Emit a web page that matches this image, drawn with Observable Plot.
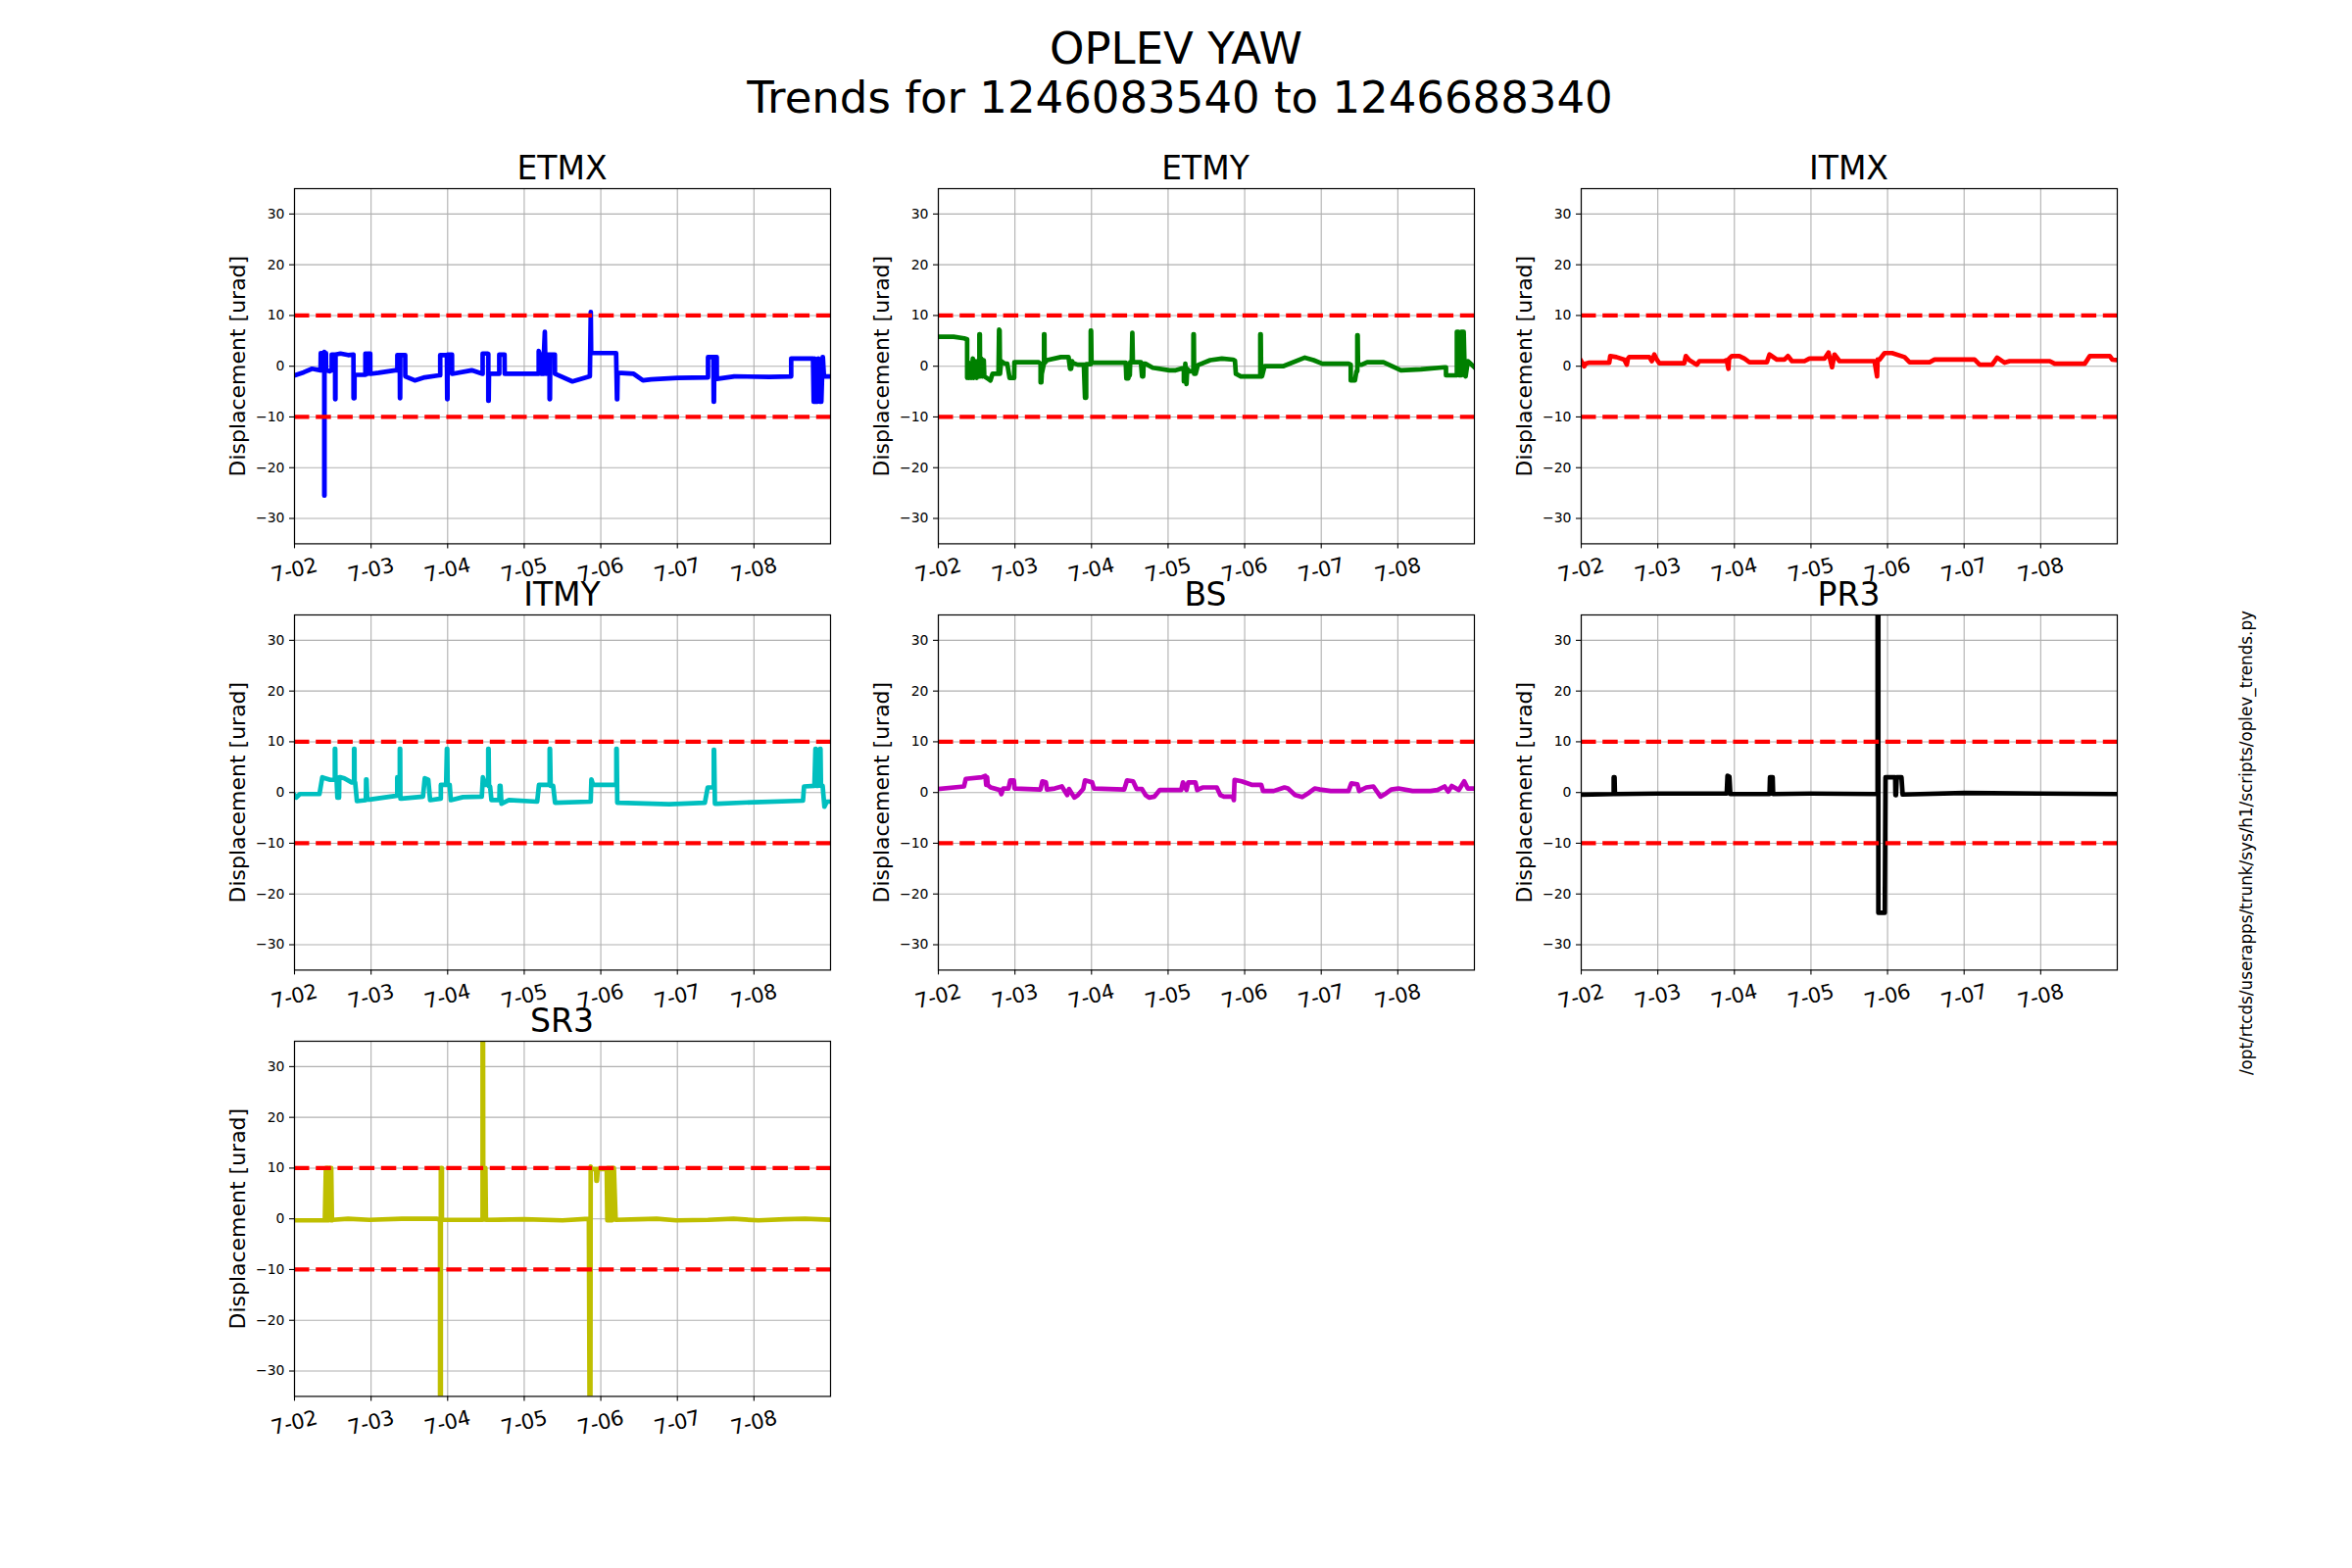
<!DOCTYPE html>
<html>
<head>
<meta charset="utf-8">
<script src="https://cdn.jsdelivr.net/npm/d3@7"></script>
<script src="https://cdn.jsdelivr.net/npm/@observablehq/plot@0.6"></script>
<style>
html, body { margin: 0; padding: 0; background: #fff; }
#fig { position: relative; width: 2400px; height: 1600px; overflow: hidden; background: #fff; font-family: "DejaVu Sans", sans-serif; }
#fig > svg.panel { position: absolute; overflow: visible; }
#overlay { position: absolute; left: 0; top: 0; pointer-events: none; }
</style>
</head>
<body>
<div id="fig"></div>
<script>
// ---------- data ----------
const suptitle = ["OPLEV YAW", "Trends for 1246083540 to 1246688340"];
const scriptPath = "/opt/rtcds/userapps/trunk/sys/h1/scripts/oplev_trends.py";
const yLabel = "Displacement [urad]";
const startUTC = Date.UTC(2019, 6, 2);          // 7-02 00:00
const spanDays = 7;
const tickDays = [0, 1, 2, 3, 4, 5, 6];
const tickLabels = ["7-02", "7-03", "7-04", "7-05", "7-06", "7-07", "7-08"];
const yTicks = [-30, -20, -10, 0, 10, 20, 30];
const yDomain = [-35, 35];
const thresholds = [10, -10];
const panelNames = ["ETMX", "ETMY", "ITMX", "ITMY", "BS", "PR3", "SR3"];
const panelColors = ["#0000ff", "#008000", "#ff0000", "#00bfbf", "#bf00bf", "#000000", "#bfbf00"];

// [day offset from 7-02, displacement urad]
const etmx = [[0,-1.8],[0.12,-1.2],[0.23,-0.5],[0.34,-0.8],[0.343,2.6],[0.35,2.4],[0.354,-0.8],[0.36,2.6],[0.375,2.4],[0.389,2.8],[0.389,-25.5],[0.392,-25.5],[0.392,2.6],[0.411,2.6],[0.413,-0.8],[0.457,-1],[0.486,-0.8],[0.486,2.3],[0.53,2.3],[0.531,-6.5],[0.535,-6.5],[0.536,2.3],[0.6,2.5],[0.7,2.2],[0.77,2.3],[0.771,-6.3],[0.783,-6.3],[0.784,-1.7],[0.926,-1.7],[0.926,2.5],[0.95,2.4],[0.95,-1.5],[0.96,-1.5],[0.96,2.5],[0.989,2.5],[0.99,-1.5],[1.1,-1.3],[1.314,-0.8],[1.343,-0.8],[1.343,2.2],[1.375,2.2],[1.377,-6.3],[1.38,-6.3],[1.382,2.2],[1.446,2.2],[1.447,-2],[1.571,-2.8],[1.7,-2.2],[1.886,-1.8],[1.903,-1.8],[1.903,2.2],[1.99,2.2],[1.994,-6.5],[1.998,-6.5],[2.0,2.3],[2.057,2.3],[2.058,-1.5],[2.314,-0.8],[2.457,-1.5],[2.457,2.5],[2.514,2.5],[2.531,2.4],[2.531,-6.8],[2.536,-6.8],[2.54,-1.5],[2.674,-1.5],[2.674,2.3],[2.743,2.3],[2.745,-1.5],[3.189,-1.5],[3.189,3],[3.21,2],[3.22,-1.5],[3.257,-1.5],[3.257,2.5],[3.269,6.8],[3.274,2.3],[3.286,-1.5],[3.3,2.3],[3.33,2.3],[3.331,-6.5],[3.336,-6.5],[3.34,2.3],[3.4,2.3],[3.401,-1.5],[3.629,-3],[3.857,-2],[3.869,10.7],[3.874,2.6],[4.2,2.6],[4.211,-6.5],[4.215,-6.5],[4.22,-1.3],[4.429,-1.5],[4.55,-2.8],[4.657,-2.6],[5.0,-2.3],[5.4,-2.2],[5.4,1.8],[5.47,1.8],[5.474,-7],[5.478,-7],[5.482,1.8],[5.514,1.8],[5.515,-2.5],[5.743,-2],[6.2,-2.1],[6.486,-2],[6.486,1.5],[6.771,1.5],[6.78,-7],[6.79,1.5],[6.8,-7],[6.83,-7],[6.84,1.5],[6.86,-7],[6.88,-7],[6.897,1.8],[6.9,1.8],[6.914,-2],[7,-2]];

const etmy = [[0,5.8],[0.2,5.8],[0.337,5.5],[0.376,5.3],[0.376,-2.3],[0.39,0.8],[0.4,-2.3],[0.42,0.5],[0.43,-2.3],[0.45,1.5],[0.46,-2.3],[0.48,1],[0.5,-2.3],[0.51,1],[0.52,-2],[0.536,-2],[0.536,6.3],[0.542,6.3],[0.545,-2],[0.56,1.5],[0.575,-2],[0.593,1.2],[0.6,-2],[0.65,-2.5],[0.68,-2.8],[0.707,-1.5],[0.785,-1.5],[0.793,7.2],[0.8,7],[0.805,-1.5],[0.82,1],[0.87,0.5],[0.9,0.5],[0.93,-2.3],[0.99,-2.3],[0.993,0.8],[1.306,0.8],[1.335,0.5],[1.335,-3.2],[1.345,-3.2],[1.35,-1.5],[1.38,0.6],[1.38,6.3],[1.385,6.3],[1.387,0.6],[1.42,1.2],[1.6,1.8],[1.7,1.8],[1.72,-0.5],[1.734,-0.5],[1.745,1],[1.76,0.6],[1.82,0.3],[1.9,0.3],[1.915,-6.2],[1.93,-6.2],[1.93,0.4],[1.99,0.4],[1.99,7],[1.995,7],[2.0,0.7],[2.447,0.7],[2.455,-2.4],[2.48,-2.4],[2.49,-1.8],[2.5,-1.8],[2.505,0.8],[2.525,0.8],[2.533,6.6],[2.54,0.8],[2.645,0.8],[2.66,-2],[2.675,-2],[2.68,0.5],[2.704,0.5],[2.8,-0.3],[3.018,-0.8],[3.1,-0.8],[3.189,-0.4],[3.206,-0.4],[3.206,-3],[3.22,-3],[3.225,0.5],[3.24,-3.5],[3.25,-0.5],[3.275,-1],[3.33,-1],[3.331,6.3],[3.336,6.3],[3.34,-1.5],[3.36,-1.5],[3.388,0.2],[3.55,1.2],[3.702,1.5],[3.85,1.3],[3.873,1.1],[3.885,-1.5],[3.95,-2],[4.204,-2],[4.204,6.3],[4.21,6.3],[4.215,-2],[4.227,-2],[4.26,0],[4.501,0],[4.786,1.7],[4.9,1.2],[5.014,0.5],[5.357,0.5],[5.385,0.3],[5.385,-2.8],[5.44,-2.8],[5.46,-1],[5.471,-1],[5.471,6.1],[5.476,6.1],[5.48,0.3],[5.528,0.3],[5.6,0.8],[5.813,0.8],[6.041,-0.8],[6.3,-0.6],[6.612,-0.2],[6.629,-0.2],[6.629,-1.8],[6.771,-1.8],[6.771,6.8],[6.79,6.8],[6.8,-1.8],[6.829,-1.8],[6.829,6.8],[6.86,6.8],[6.874,-1.8],[6.885,-2],[6.914,1],[7,-0.2]];

const itmx = [[0,1.0],[0.039,0],[0.06,0.5],[0.105,0.7],[0.366,0.7],[0.379,2],[0.46,1.8],[0.562,1.3],[0.595,0.3],[0.61,1.5],[0.627,1.8],[0.889,1.8],[0.922,1.0],[0.954,2.3],[0.987,1.3],[1.02,0.6],[1.346,0.6],[1.366,2],[1.412,1.2],[1.51,0.3],[1.542,1],[1.869,1],[1.9,1.2],[1.922,-0.5],[1.93,1.5],[1.967,2],[2.065,2],[2.131,1.5],[2.196,0.8],[2.425,0.8],[2.458,2.3],[2.556,1.3],[2.654,1.3],[2.699,2],[2.752,1],[2.915,1],[2.98,1.5],[3.176,1.5],[3.229,2.7],[3.275,-0.2],[3.307,2.3],[3.373,1],[3.83,1],[3.863,-2],[3.87,1.3],[3.895,1.3],[3.961,2.6],[4.059,2.6],[4.222,1.8],[4.288,0.8],[4.549,0.8],[4.614,1.3],[5.137,1.3],[5.203,0.3],[5.366,0.3],[5.431,1.7],[5.529,0.7],[5.595,1],[6.118,1],[6.183,0.5],[6.575,0.5],[6.641,2],[6.902,2],[6.935,1.3],[7,1.2]];

const itmy = [[0,-0.5],[0.023,-1],[0.07,-0.3],[0.326,-0.3],[0.363,3],[0.466,2.5],[0.527,2.5],[0.527,8.6],[0.532,8.6],[0.535,2.5],[0.55,2.5],[0.56,-1],[0.582,-1],[0.585,3],[0.606,3],[0.652,2.8],[0.746,2],[0.778,2],[0.778,8.6],[0.783,8.6],[0.785,2],[0.792,2],[0.815,-1.7],[0.932,-1.5],[0.935,2.6],[0.941,2.6],[0.95,-1.4],[0.979,-1.4],[1.342,-0.6],[1.342,3],[1.375,3],[1.375,8.6],[1.38,8.6],[1.383,-1.2],[1.398,-1.2],[1.678,-0.8],[1.701,2.8],[1.747,2.5],[1.771,-1.5],[1.911,-1.2],[1.911,1.5],[1.98,1.5],[1.99,8.6],[1.995,8.6],[2.0,1.5],[2.027,1.5],[2.041,-1.5],[2.2,-0.9],[2.446,-0.8],[2.46,3],[2.493,1.5],[2.53,1.5],[2.53,8.6],[2.535,8.6],[2.54,1.2],[2.554,1.2],[2.572,-1.5],[2.675,-1.5],[2.679,1.3],[2.69,1.3],[2.703,-2.2],[2.8,-1.5],[3.169,-1.8],[3.192,1.5],[3.332,1.5],[3.332,8.6],[3.337,8.6],[3.345,1.3],[3.378,1.3],[3.402,-2],[3.868,-1.8],[3.877,2.6],[3.9,1.5],[4.203,1.5],[4.203,8.6],[4.208,8.6],[4.215,-2],[4.24,-2],[4.893,-2.3],[5.359,-2],[5.396,1],[5.475,1],[5.475,8.4],[5.48,8.4],[5.49,-2.2],[5.522,-2.2],[6.0,-1.9],[6.64,-1.6],[6.654,1.2],[6.789,1.3],[6.803,8.6],[6.808,8.6],[6.815,1.3],[6.831,1.3],[6.864,8.6],[6.869,8.6],[6.875,1.3],[6.897,1.3],[6.92,-2.8],[6.952,-1.8],[7,-1.8]];

const bs = [[0,0.7],[0.335,1.2],[0.358,2.7],[0.567,3],[0.614,3.3],[0.625,1.5],[0.637,3],[0.645,1.5],[0.683,1],[0.8,0.5],[0.823,-0.3],[0.846,0.8],[0.916,0.8],[0.939,2.4],[0.986,2.4],[0.995,0.8],[1.334,0.6],[1.358,2.2],[1.404,2],[1.418,0.6],[1.52,0.8],[1.613,1.2],[1.683,-0.5],[1.706,0.7],[1.776,-1],[1.822,-0.5],[1.892,0.7],[1.915,2.4],[2.008,2],[2.032,0.8],[2.427,0.6],[2.464,2.4],[2.543,2.2],[2.589,0.7],[2.659,0.7],[2.706,-0.5],[2.752,-1],[2.822,-0.8],[2.892,0.5],[3.171,0.5],[3.194,2],[3.24,0.5],[3.264,2],[3.357,2],[3.38,0.5],[3.45,1],[3.636,1],[3.682,-0.5],[3.729,-0.8],[3.845,-0.8],[3.859,-1.5],[3.868,2.5],[3.961,2.2],[4.1,1.5],[4.217,1.5],[4.24,0.3],[4.379,0.3],[4.519,1],[4.565,0.8],[4.658,-0.5],[4.751,-0.9],[4.844,0],[4.914,0.8],[4.984,0.6],[5.123,0.3],[5.356,0.3],[5.393,1.8],[5.472,1.6],[5.495,0.3],[5.588,1],[5.681,1.2],[5.774,-0.8],[5.844,-0.2],[5.914,0.6],[6.007,0.8],[6.193,0.3],[6.425,0.3],[6.518,0.5],[6.611,1.2],[6.657,0.2],[6.704,1.3],[6.797,0.5],[6.867,2.2],[6.913,0.8],[7,0.8]];

const pr3 = [[0,-0.4],[0.424,-0.3],[0.424,3],[0.435,3],[0.44,-0.3],[1.0,-0.2],[1.9,-0.2],[1.91,3.3],[1.935,3.1],[1.947,-0.3],[2.459,-0.3],[2.465,3],[2.5,3],[2.506,-0.3],[3.0,-0.2],[3.87,-0.3],[3.87,40],[3.88,40],[3.88,-23.7],[3.964,-23.7],[3.973,3],[4.1,3],[4.103,-0.5],[4.11,-0.5],[4.12,3],[4.182,3],[4.197,-0.4],[5.0,-0.1],[6.0,-0.2],[7,-0.3]];

const sr3 = [[0,-0.3],[0.396,-0.3],[0.41,10],[0.415,-0.3],[0.42,10],[0.425,-0.3],[0.43,10],[0.436,-0.3],[0.44,10],[0.447,-0.3],[0.455,10],[0.466,10],[0.475,-0.3],[0.48,10],[0.489,-0.3],[0.499,-0.2],[0.699,0],[0.979,-0.2],[1.4,0],[1.864,0],[1.901,-0.2],[1.901,-40],[1.911,-40],[1.911,10],[1.925,10],[1.925,-0.2],[2.456,-0.2],[2.456,40],[2.462,40],[2.465,10],[2.493,10],[2.5,-0.2],[3.0,-0.1],[3.5,-0.3],[3.844,0],[3.854,-40],[3.864,-40],[3.868,10.3],[3.877,9.8],[3.938,9.8],[3.942,7.5],[3.95,7.5],[3.96,9.8],[4.077,9.8],[4.085,-0.3],[4.09,10],[4.101,-0.3],[4.11,10],[4.124,-0.3],[4.13,10],[4.147,-0.3],[4.155,10],[4.171,10],[4.194,-0.2],[4.5,-0.1],[4.73,0],[4.986,-0.3],[5.4,-0.2],[5.732,0],[6.058,-0.3],[6.4,-0.1],[6.664,0],[7,-0.2]];

const panelSeries = [etmx, etmy, itmx, itmy, bs, pr3, sr3];

// ---------- layout ----------
const AX_W = 547, AX_H = 362.4;
const colLeft = [300, 956.5, 1613];
const rowTop = [192, 626.8, 1061.6];
const ML = 120, MR = 14, MT = 14, MB = 80;
const DAY = 864e5;
const toDate = d => new Date(startUTC + d * DAY);

const fig = document.getElementById("fig");

panelNames.forEach((name, i) => {
  const col = i % 3, row = Math.floor(i / 3);
  const data = panelSeries[i].map(([d, v]) => ({t: toDate(d), v}));
  const ticks = tickDays.map(toDate);
  const tickData = tickDays.map((d, k) => ({t: toDate(d), label: tickLabels[k]}));
  const svg = Plot.plot({
    width: ML + AX_W + MR,
    height: MT + AX_H + MB,
    marginLeft: ML, marginRight: MR, marginTop: MT, marginBottom: MB,
    style: {fontFamily: "DejaVu Sans, sans-serif", background: "transparent", color: "black", overflow: "visible"},
    x: {type: "utc", domain: [toDate(0), toDate(spanDays)]},
    y: {domain: yDomain},
    marks: [
      Plot.gridX(ticks, {stroke: "#b0b0b0", strokeOpacity: 1, strokeWidth: 1.1}),
      Plot.gridY(yTicks, {stroke: "#b0b0b0", strokeOpacity: 1, strokeWidth: 1.1}),
      Plot.line(data, {x: "t", y: "v", stroke: panelColors[i], strokeWidth: 4.7, clip: true, strokeLinejoin: "round", strokeLinecap: "square"}),
      Plot.ruleY(thresholds, {stroke: "#ff0000", strokeWidth: 4.2, strokeDasharray: "15.5,6.7"}),
      Plot.axisY(yTicks, {tickSize: 5, tickPadding: 5, fontSize: 14, label: null, strokeWidth: 1.1}),
      Plot.axisX(ticks, {tickSize: 5, tickFormat: () => "", label: null, strokeWidth: 1.1}),
      Plot.text(tickData, {x: "t", text: "label", frameAnchor: "bottom", dy: 27, rotate: -14, fontSize: 21, textAnchor: "middle", lineAnchor: "middle", fill: "black"}),
      Plot.text([yLabel], {text: d => d, frameAnchor: "left", dx: -58, rotate: -90, fontSize: 22, fill: "black", textAnchor: "middle", lineAnchor: "middle"}),
      Plot.frame({stroke: "black", strokeWidth: 1.2})
    ]
  });
  svg.classList.add("panel");
  svg.style.left = (colLeft[col] - ML) + "px";
  svg.style.top = (rowTop[row] - MT) + "px";
  fig.appendChild(svg);
});

// ---------- overlay texts (titles, script path) ----------
const ns = "http://www.w3.org/2000/svg";
const ov = document.createElementNS(ns, "svg");
ov.setAttribute("id", "overlay");
ov.setAttribute("width", 2400);
ov.setAttribute("height", 1600);
function addText(str, x, y, size, extra) {
  const t = document.createElementNS(ns, "text");
  t.setAttribute("x", x);
  t.setAttribute("y", y);
  t.setAttribute("font-size", size);
  t.setAttribute("font-family", "DejaVu Sans, sans-serif");
  t.setAttribute("text-anchor", "middle");
  t.setAttribute("fill", "black");
  if (extra) for (const k in extra) t.setAttribute(k, extra[k]);
  t.textContent = str;
  ov.appendChild(t);
}
addText(suptitle[0], 1200, 65, 45);
addText(suptitle[1], 1204, 115, 45);
panelNames.forEach((name, i) => {
  const col = i % 3, row = Math.floor(i / 3);
  addText(name, colLeft[col] + AX_W / 2, rowTop[row] - 9, 33);
});
addText(scriptPath, 0, 0, 16.8, {transform: "translate(2292,860) rotate(-90)", "dominant-baseline": "central"});
fig.appendChild(ov);
</script>
</body>
</html>
